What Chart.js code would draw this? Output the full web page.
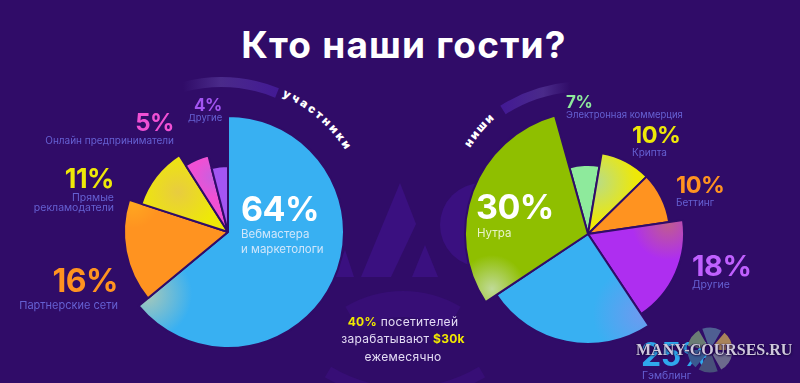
<!DOCTYPE html>
<html lang="ru">
<head>
<meta charset="utf-8">
<title>Кто наши гости?</title>
<script src="https://cdn.jsdelivr.net/npm/chart.js@4"></script>
<style>
  html, body { margin: 0; padding: 0; }
  body { width: 800px; height: 383px; background: #300c68; position: relative; overflow: hidden; font-family: Inter, "Open Sans", sans-serif; }
  #decor, #logo { position: absolute; left: 0; top: 0; }
  canvas { position: absolute; }
  .t { position: absolute; white-space: nowrap; transform: translateY(-50%); line-height: 1; }
  .num { font-weight: 700; letter-spacing: -0.5px; }
  .sub { font-weight: 400; color: #6560d2; }
  #title { left: 4px; width: 800px; text-align: center; top: 44px; font-size: 37px; font-weight: 700; letter-spacing: 1.2px; color: #fff; }
  .mid { left: 303px; width: 200px; text-align: center; color: #e4dcf5; font-size: 12px; letter-spacing: 0.3px; }
  .mid b { color: #f0e800; }
  #mark { left: 636px; top: 350px; font: bold 16px "Liberation Serif", serif; color: #cfc8dc; text-shadow: 1px 1px 2px #1a0840, -1px 0 1px #1a0840; }
</style>
</head>
<body>
<svg id="decor" width="800" height="383">
  <defs>
    <linearGradient id="bandL" x1="183" y1="0" x2="277" y2="0" gradientUnits="userSpaceOnUse">
      <stop offset="0" stop-color="#4a2a8a" stop-opacity="0"/>
      <stop offset="0.4" stop-color="#4a2a8a"/>
      <stop offset="1" stop-color="#431a94"/>
    </linearGradient>
    <linearGradient id="bandR" x1="503" y1="0" x2="570" y2="0" gradientUnits="userSpaceOnUse">
      <stop offset="0" stop-color="#431a94"/>
      <stop offset="0.6" stop-color="#4a2a8a"/>
      <stop offset="1" stop-color="#4a2a8a" stop-opacity="0"/>
    </linearGradient>
    <path id="arcL" d="M 282 96 A 143 143 0 0 1 350 158"/>
    <path id="arcR" d="M 470 148 A 148 148 0 0 1 500 114"/>
  </defs>
  <g fill="#3a1080">
    <polygon points="400,183 416,224 391,277 361,277"/>
    <polygon points="425,245 438,277 412,277"/>
    <polygon points="345,250 354,277 335,277"/>
    <circle cx="482" cy="225" r="42"/>
  </g>
  <g fill="none" stroke="#370e76">
    <path d="M 352 318 A 100 100 0 0 1 454 318" stroke-width="26"/>
    <path d="M 328 372 A 150 150 0 0 0 482 372" stroke-width="12"/>
  </g>
  <path d="M 183 87 A 150 150 0 0 1 277 93" fill="none" stroke="url(#bandL)" stroke-width="10"/>
  <path d="M 503 110 A 150 150 0 0 1 570 87" fill="none" stroke="url(#bandR)" stroke-width="10"/>
  <text font-family="Inter, sans-serif" font-weight="900" font-size="11.5" fill="#fff" letter-spacing="2.5"><textPath href="#arcL">участники</textPath></text>
  <text font-family="Inter, sans-serif" font-weight="900" font-size="11.5" fill="#fff" letter-spacing="1.8"><textPath href="#arcR">ниши</textPath></text>
</svg>
<canvas id="guests" width="260" height="260" style="left:98px;top:102px"></canvas>
<canvas id="niches" width="260" height="260" style="left:458px;top:104px"></canvas>
<div id="labels"></div>
<svg id="logo" width="800" height="383">
  <g fill="none" stroke-width="17">
    <circle cx="710" cy="350" r="14" pathLength="360" stroke="#6b7d74" stroke-dasharray="50 310" transform="rotate(190 710 350)"/>
    <circle cx="710" cy="350" r="14" pathLength="360" stroke="#4f5f92" stroke-dasharray="50 310" transform="rotate(250 710 350)"/>
    <circle cx="710" cy="350" r="14" pathLength="360" stroke="#a8835a" stroke-dasharray="50 310" transform="rotate(310 710 350)"/>
    <circle cx="710" cy="350" r="14" pathLength="360" stroke="#6c6a8c" stroke-dasharray="50 310" transform="rotate(10 710 350)"/>
    <circle cx="710" cy="350" r="14" pathLength="360" stroke="#48507a" stroke-dasharray="50 310" transform="rotate(70 710 350)"/>
    <circle cx="710" cy="350" r="14" pathLength="360" stroke="#3a5a90" stroke-dasharray="50 310" transform="rotate(130 710 350)"/>
  </g>
</svg>
<div class="t" id="mark">MANY-COURSES.RU</div>

<script>
// left pie: участники
const guestLabels = ["Вебмастера\nи маркетологи", "Партнерские сети", "Прямые\nрекламодатели", "Онлайн предприниматели", "Другие"];
const guestValues = [64, 16, 11, 5, 4];
const guestColors = ["#38b0f2", "#ff9320", "#eee808", "#f050d4", "#a355f2"];
const guestRadius = [116, 104, 91, 79, 66];

// right pie: ниши
const nicheLabels = ["Электронная коммерция", "Крипта", "Беттинг", "Другие", "Гэмблинг", "Нутра"];
const nicheValues = [7, 10, 10, 18, 25, 30];
const nicheColors = ["#8eea9c", "#eee808", "#ff9320", "#ae2ef0", "#38b0f2", "#8fbf00"];
const nicheRadius = [69, 82, 82, 96, 110, 123];
const nicheRotation = 344.4;

// soft highlights on slices, [index, x, y, r, colour] relative to pie centre
const guestGlow = [[0, -82, 62, 46, "#a9c9b8"], [1, -95, -30, 26, "#ffa820"], [2, -50, -40, 40, "#e8cc40"], [3, -15, -55, 20, "#c860e0"]];
const nicheGlow = [[1, 8, -52, 40, "#b8dc88"], [3, 80, -10, 36, "#c05c90"], [4, 55, 80, 50, "#6e9af0"], [5, -96, 55, 34, "#c0da98"]];

function sliceColor(colors, glow) {
  return function (c) {
    const g = glow.find(function (x) { return x[0] === c.dataIndex; });
    if (!g) return colors[c.dataIndex];
    const cx = c.chart.width / 2, cy = c.chart.height / 2;
    const grad = c.chart.ctx.createRadialGradient(cx + g[1], cy + g[2], 0, cx + g[1], cy + g[2], g[3]);
    grad.addColorStop(0, g[4]);
    grad.addColorStop(1, colors[c.dataIndex]);
    return grad;
  };
}

// every slice has its own outer radius
const sliceRadius = {
  id: "sliceRadius",
  beforeDatasetDraw(chart) {
    const radius = chart.options.plugins.sliceRadius.values;
    chart.getDatasetMeta(0).data.forEach(function (arc, i) {
      arc.outerRadius = radius[i];
    });
  }
};

function makePie(id, labels, values, colors, glow, radius, rotation) {
  return new Chart(document.getElementById(id), {
    type: "pie",
    data: {
      labels: labels,
      datasets: [{
        data: values,
        backgroundColor: sliceColor(colors, glow),
        borderColor: "#300c68",
        borderWidth: 2
      }]
    },
    options: {
      responsive: false,
      animation: false,
      rotation: rotation,
      plugins: {
        legend: { display: false },
        tooltip: { enabled: false },
        sliceRadius: { values: radius }
      }
    },
    plugins: [sliceRadius]
  });
}

makePie("guests", guestLabels, guestValues, guestColors, guestGlow, guestRadius, 0);
makePie("niches", nicheLabels, nicheValues, nicheColors, nicheGlow, nicheRadius, nicheRotation);

// texts
const box = document.getElementById("labels");
function put(cls, text, css) {
  const el = document.createElement("div");
  el.className = "t " + cls;
  el.innerHTML = text;
  el.style.cssText = css;
  box.appendChild(el);
  return el;
}
function pct(v) { return v + "%"; }

put("", "Кто наши гости?", "").id = "title";

// left numbers
put("num", pct(guestValues[0]), "left:241px;top:209px;font-size:34px;color:#fff");
put("sub", "Вебмастера", "left:241px;top:235px;font-size:11.5px;color:#cfe6fb");
put("sub", "и маркетологи", "left:241px;top:250px;font-size:11.5px;color:#cfe6fb");
put("num", pct(guestValues[1]), "right:682px;top:281px;font-size:32px;color:" + guestColors[1]);
put("sub", "Партнерские сети", "right:682px;top:305px;font-size:11px");
put("num", pct(guestValues[2]), "right:686px;top:178px;font-size:27px;color:" + guestColors[2]);
put("sub", "Прямые", "right:686px;top:198px;font-size:10.5px");
put("sub", "рекламодатели", "right:686px;top:208px;font-size:10.5px");
put("num", pct(guestValues[3]), "right:626px;top:123px;font-size:24px;color:" + guestColors[3]);
put("sub", "Онлайн предприниматели", "right:626px;top:140px;font-size:10px");
put("num", pct(guestValues[4]), "left:194px;top:105px;font-size:17px;color:" + guestColors[4]);
put("sub", "Другие", "left:188px;top:118px;font-size:9.5px");

// right numbers
put("num", pct(nicheValues[5]), "left:476px;top:207px;font-size:34px;color:#fff");
put("sub", "Нутра", "left:477px;top:234px;font-size:11.5px;color:#e8f4c8");
put("num", pct(nicheValues[0]), "left:566px;top:102px;font-size:17px;color:" + nicheColors[0]);
put("sub", "Электронная коммерция", "left:566px;top:115px;font-size:9.5px");
put("num", pct(nicheValues[1]), "left:632px;top:135px;font-size:23.5px;color:" + nicheColors[1]);
put("sub", "Крипта", "left:632px;top:152px;font-size:10px");
put("num", pct(nicheValues[2]), "left:676px;top:185px;font-size:23.5px;color:" + nicheColors[2]);
put("sub", "Беттинг", "left:676px;top:202px;font-size:10px");
put("num", pct(nicheValues[3]), "left:692px;top:265px;font-size:29px;color:#c060ff");
put("sub", "Другие", "left:692px;top:285px;font-size:10.5px");
put("num", pct(nicheValues[4]), "left:641px;top:355px;font-size:32px;color:#2fa8ec");
put("sub", "Гэмблинг", "left:642px;top:376px;font-size:10.5px");

// centre note
put("mid", "<b>40%</b> посетителей", "top:322px");
put("mid", "зарабатывают <b>$30k</b>", "top:339px");
put("mid", "ежемесячно", "top:357px");

// keep the watermark on top of the labels
document.body.appendChild(document.getElementById("logo"));
document.body.appendChild(document.getElementById("mark"));
</script>
</body>
</html>
